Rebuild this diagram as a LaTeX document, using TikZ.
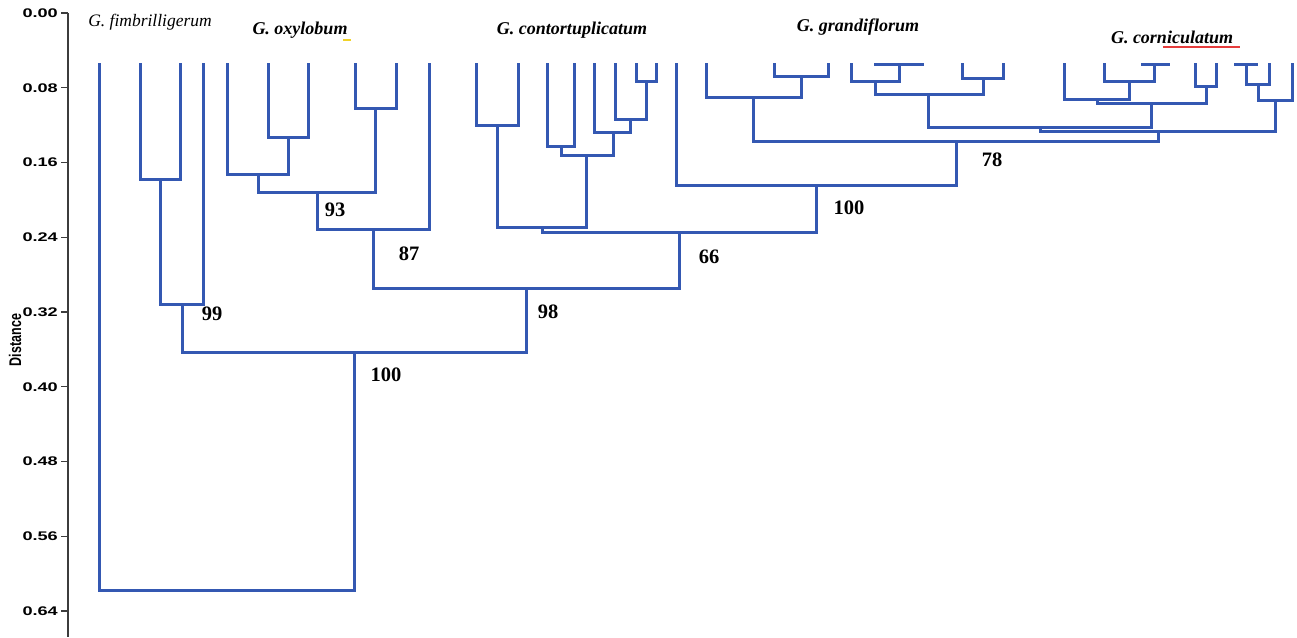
\documentclass[tikz,border=0pt]{standalone}
\usepackage{fontspec}
\setmainfont{Liberation Serif}
\setsansfont{Liberation Sans}
\usepackage{graphicx}
\definecolor{treeblue}{RGB}{52,88,178}
\definecolor{axisgray}{RGB}{60,60,60}
\definecolor{spellred}{RGB}{230,60,60}
\definecolor{spellyellow}{RGB}{240,210,40}
\begin{document}
\begin{tikzpicture}[x=1pt,y=-1pt,
  branch/.style={draw=treeblue,line width=3pt,line join=miter,line cap=rect},
  axisline/.style={draw=axisgray,line width=1.1pt},
  ticklab/.style={anchor=east,inner sep=0pt,font=\sffamily\bfseries\fontsize{12.5}{13}\selectfont},
  species/.style={inner sep=0pt,font=\bfseries\itshape\fontsize{18}{18}\selectfont},
  boot/.style={inner sep=0pt,font=\bfseries\fontsize{20.5}{20}\selectfont}]
\useasboundingbox (0,0) rectangle (1297,637);
% axis
\draw[axisline] (68,13) -- (68,637);
\foreach \k/\lab in {0/0.00,1/0.08,2/0.16,3/0.24,4/0.32,5/0.40,6/0.48,7/0.56,8/0.64}{
  \draw[axisline] (61,{13+74.75*\k}) -- (68,{13+74.75*\k});
  \node[ticklab] (tick\k) at (58,{13+74.75*\k}) {\scalebox{1.45}[1]{\lab}};
}
\node[inner sep=0pt,font=\sffamily\bfseries\fontsize{12.5}{13}\selectfont] (axtitle) at (15,340) {\scalebox{1.35}[1]{\rotatebox{90}{Distance}}};
% leaves
\foreach \n/\x in {1/99,2/140,3/180,4/203,5/227,6/268,7/308,8/355,9/396,10/429,
  11/476,12/518,13/547,14/574,15/594,16/615,17/636,18/656,19/676,20/706,
  21/774,22/828,23/851,24/875,25/922,26/962,27/1003,28/1064,29/1104,30/1142,
  31/1168,32/1195,33/1216,34/1235,35/1256,36/1269,37/1292}{
  \coordinate (L\n) at (\x,64);
}
% internal nodes
\coordinate (n1) at (160,179);
\coordinate (n2) at (182,304);
\coordinate (n3) at (288,137);
\coordinate (n4) at (258,174);
\coordinate (n5) at (375,108);
\coordinate (n6) at (317,192);
\coordinate (n7) at (373,229);
\coordinate (n8) at (497,125);
\coordinate (n9) at (561,146);
\coordinate (n10) at (646,81);
\coordinate (n11) at (630,119);
\coordinate (n12) at (613,132);
\coordinate (n13) at (586,155);
\coordinate (n14) at (542,227);
\coordinate (n15) at (801,76);
\coordinate (n16) at (753,97);
\coordinate (n17) at (899,64);
\coordinate (n18) at (875,81);
\coordinate (n19) at (983,78);
\coordinate (n20) at (928,94);
\coordinate (n21) at (1154,64);
\coordinate (n22) at (1129,81);
\coordinate (n23) at (1097,99);
\coordinate (n24) at (1206,86);
\coordinate (n25) at (1151,103);
\coordinate (n26) at (1040,127);
\coordinate (n27) at (1246,64);
\coordinate (n28) at (1258,84);
\coordinate (n29) at (1275,100);
\coordinate (n30) at (1158,131);
\coordinate (n31) at (956,141);
\coordinate (n32) at (816,185);
\coordinate (n33) at (679,232);
\coordinate (n34) at (526,288);
\coordinate (n35) at (354,352);
\coordinate (n36) at (226,590);
% branches
\foreach \a/\p/\b in {L2/n1/L3, n1/n2/L4, L6/n3/L7, L5/n4/n3, L8/n5/L9, n4/n6/n5,
  n6/n7/L10, L11/n8/L12, L13/n9/L14, L17/n10/L18, L16/n11/n10, L15/n12/n11,
  n9/n13/n12, n8/n14/n13, L21/n15/L22, L20/n16/n15, L24/n17/L25, L23/n18/n17,
  L26/n19/L27, n18/n20/n19, L30/n21/L31, L29/n22/n21, L28/n23/n22, L32/n24/L33,
  n23/n25/n24, n20/n26/n25, L34/n27/L35, n27/n28/L36, n28/n29/L37, n26/n30/n29,
  n16/n31/n30, L19/n32/n31, n14/n33/n32, n7/n34/n33, n2/n35/n34, L1/n36/n35}{
  \draw[branch] (\a) |- (\p) -| (\b);
}
% bootstrap values
\node[boot] (b93) at (335,210) {93};
\node[boot] (b87) at (409,254) {87};
\node[boot] (b99) at (212,314) {99};
\node[boot] (b100a) at (386,375) {100};
\node[boot] (b98) at (548,312) {98};
\node[boot] (b66) at (709,257) {66};
\node[boot] (b100b) at (849,208) {100};
\node[boot] (b78) at (992,160) {78};
% species labels
\node[inner sep=0pt,font=\itshape\fontsize{17.5}{18}\selectfont] (sfim) at (150,22) {G. fimbrilligerum};
\node[species] (soxy) at (300,30) {G. oxylobum};
\node[species] (scon) at (572,30) {G. contortuplicatum};
\node[species] (sgra) at (858,27) {G. grandiflorum};
\node[species] (scor) at (1172,37) {G. corniculatum};
\coordinate (yl1) at (343,40); \coordinate (yl2) at (351,40);
\draw[spellyellow,line width=1.5pt] (yl1) -- (yl2);
\coordinate (rl1) at (1163,47); \coordinate (rl2) at (1240,47);
\draw[spellred,line width=1.5pt] (rl1) -- (rl2);
\end{tikzpicture}
\end{document}
